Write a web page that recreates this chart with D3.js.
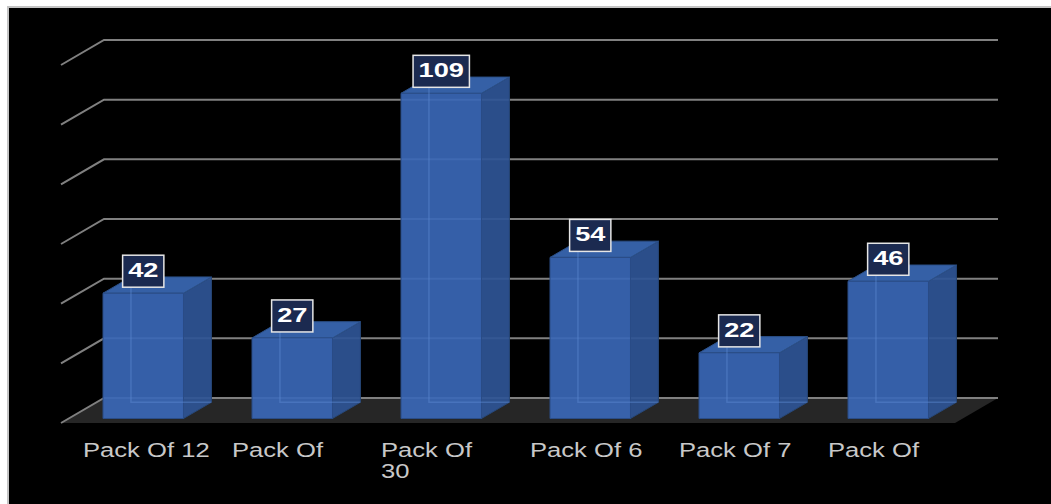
<!DOCTYPE html>
<html>
<head>
<meta charset="utf-8">
<script src="https://cdn.jsdelivr.net/npm/d3@7"></script>
<style>
  html, body { margin: 0; padding: 0; background: #fff; }
  svg { display: block; }
</style>
</head>
<body>
<svg id="chart"></svg>
<script>
// chart data
const categories = ['Pack Of 12', 'Pack Of', 'Pack Of 30', 'Pack Of 6', 'Pack Of 7', 'Pack Of']
const labelLines = [['Pack Of 12'], ['Pack Of'], ['Pack Of', '30'], ['Pack Of 6'], ['Pack Of 7'], ['Pack Of']]
const values = [42, 27, 109, 54, 22, 46]
const yTicks = [0, 20, 40, 60, 80, 100, 120]

const width = 1051
const height = 504
const font = '"Liberation Sans", Arial, sans-serif'
const stretch = 1.28 // text in the source is drawn wide
const valueStretch = 1.36

// 3d depth of the floor (front -> back)
const depth = { dx: 43, dy: -25 }
const f0 = 0.18, f1 = 0.83 // bar depth slice

const svg = d3.select('#chart')
  .attr('width', width)
  .attr('height', height)

// frame
svg.append('rect')
  .attr('x', 8).attr('y', 7)
  .attr('width', width + 20).attr('height', height + 20)
  .attr('fill', '#000')
  .attr('stroke', '#c4c4c4')
  .attr('stroke-width', 2)

// back plane scale
const y = d3.scaleLinear().domain([0, 120]).range([398, 40])
// front floor band scale
const frontLeft = 61, frontRight = 955
const x = d3.scaleBand()
  .domain(d3.range(categories.length))
  .range([frontLeft, frontRight])
  .paddingInner(0.46)
  .paddingOuter(0.23)

const atDepth = (xf, v, f) => [xf + f * depth.dx, y(v) - depth.dy * (1 - f)]

// floor
const floorPts = [atDepth(frontLeft, 0, 0), atDepth(frontLeft, 0, 1), atDepth(frontRight, 0, 1), atDepth(frontRight, 0, 0)]
svg.append('polygon')
  .attr('points', floorPts.map(p => p.join(',')).join(' '))
  .attr('fill', '#262626')

// gridlines: back wall + left wall diagonals
const grid = svg.append('g')
  .attr('stroke', '#808080')
  .attr('stroke-width', 2)
  .attr('fill', 'none')

grid.selectAll('path')
  .data(yTicks)
  .enter()
  .append('path')
  .attr('d', d => {
    const a = atDepth(frontLeft, d, 0)
    const b = atDepth(frontLeft, d, 1)
    const c = atDepth(frontRight, d, 1)
    return `M${a[0]},${a[1]}L${b[0]},${b[1]}L${c[0]},${c[1]}`
  })

// bars
const bw = x.bandwidth()
const bars = svg.append('g')
  .selectAll('g')
  .data(values)
  .enter()
  .append('g')

const poly = pts => pts.map(p => p.join(',')).join(' ')

bars.each(function (v, i) {
  const g = d3.select(this)
  const xl = x(i), xr = x(i) + bw
  const ftl = atDepth(xl, v, f0), ftr = atDepth(xr, v, f0)
  const fbl = atDepth(xl, 0, f0), fbr = atDepth(xr, 0, f0)
  const btl = atDepth(xl, v, f1), btr = atDepth(xr, v, f1)
  const bbl = atDepth(xl, 0, f1), bbr = atDepth(xr, 0, f1)

  // side face
  g.append('polygon')
    .attr('points', poly([ftr, btr, bbr, fbr]))
    .attr('fill', '#2e5494')
    .attr('fill-opacity', 0.93)
    .attr('stroke', '#274777')
    .attr('stroke-width', 1)
  // top face
  g.append('polygon')
    .attr('points', poly([ftl, btl, btr, ftr]))
    .attr('fill', '#3560a6')
    .attr('stroke', '#2c5088')
    .attr('stroke-width', 1)
  // front face
  g.append('polygon')
    .attr('points', poly([ftl, ftr, fbr, fbl]))
    .attr('fill', '#3967b6')
    .attr('fill-opacity', 0.92)
    .attr('stroke', '#2a4c86')
    .attr('stroke-width', 1)
  // hidden back edges seen through
  g.append('path')
    .attr('d', `M${btl[0]},${btl[1]}L${bbl[0]},${bbl[1]}L${bbr[0]},${bbr[1]}`)
    .attr('fill', 'none')
    .attr('stroke', '#5d8ad2')
    .attr('stroke-opacity', 0.45)
    .attr('stroke-width', 1.5)
})

// value boxes
bars.each(function (v, i) {
  const g = d3.select(this)
  const top = atDepth(x(i), v, f0)
  const cx = top[0] + bw / 2
  const boxBottom = top[1] - 6
  const lab = g.append('g')
  const rect = lab.append('rect')
  const t = lab.append('text')
    .attr('transform', `translate(${cx},${boxBottom - 10}) scale(${valueStretch},1)`)
    .attr('text-anchor', 'middle')
    .attr('fill', '#fff')
    .style('font-family', font)
    .style('font-size', '20px')
    .style('font-weight', 'bold')
    .text(v)
  const tw = t.node().getComputedTextLength() * valueStretch
  const w = tw + 11
  rect.attr('x', cx - w / 2)
    .attr('y', boxBottom - 32)
    .attr('width', w)
    .attr('height', 32)
    .attr('fill', '#1b2a50')
    .attr('stroke', '#e6e6e6')
    .attr('stroke-width', 1.5)
})

// category labels
svg.append('g')
  .selectAll('text')
  .data(labelLines)
  .enter()
  .append('text')
  .attr('transform', (d, i) => `translate(${x(i) + f0 * depth.dx - 20},457) scale(${stretch},1)`)
  .attr('fill', '#c8c8c8')
  .style('font-family', font)
  .style('font-size', '20px')
  .selectAll('tspan')
  .data(d => d)
  .enter()
  .append('tspan')
  .attr('x', 0)
  .attr('dy', (d, j) => j === 0 ? 0 : 21)
  .text(d => d)
</script>
</body>
</html>
